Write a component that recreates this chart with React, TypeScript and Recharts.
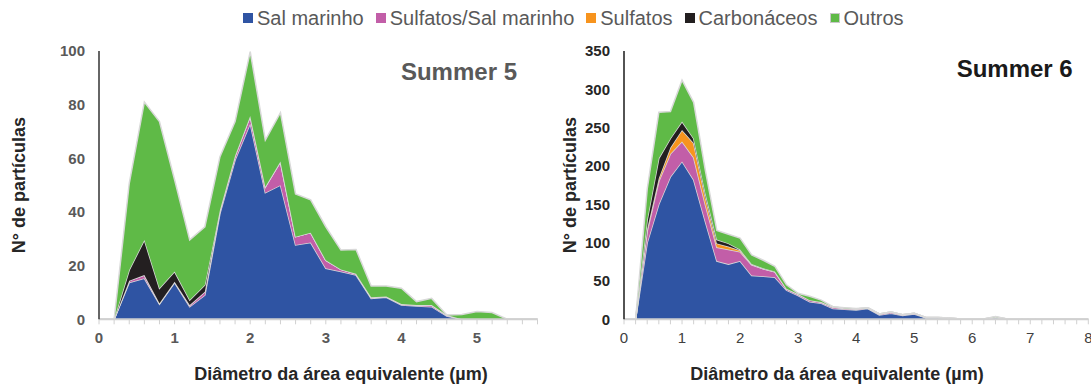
import { AreaChart, Area, XAxis, YAxis } from "recharts";

const FONT = '"Liberation Sans", Arial, sans-serif';

// Summer 5 – diameter classes (µm) and particle counts per class
const sizes5 = [
  0, 0.2, 0.4, 0.6, 0.8, 1, 1.2, 1.4, 1.6, 1.8, 2, 2.2, 2.4, 2.6, 2.8, 3, 3.2,
  3.4, 3.6, 3.8, 4, 4.2, 4.4, 4.6, 4.8, 5, 5.2, 5.4, 5.6, 5.8,
];
const salMarinho5 = [
  0, 0, 13.7, 15.3, 5.7, 13.7, 4.7, 9, 39.5, 59.4, 73, 47.2, 50, 27.7, 28.6, 19,
  17.8, 16.5, 7.8, 8.2, 5.3, 5, 4.7, 1.2, 0, 0, 0, 0, 0, 0,
];
const sulfSal5 = [
  0, 0, 0.7, 1.2, 0.3, 0.3, 0.6, 1.3, 1.2, 1.6, 2.8, 2.2, 8.8, 3.1, 3.7, 3, 0.8,
  0.5, 0.4, 0.3, 0.4, 0.3, 0.6, 0.4, 0, 0, 0, 0, 0, 0,
];
const sulfatos5 = [
  0, 0, 0, 0, 0, 0, 0, 0, 0, 0, 0, 0, 0, 0, 0, 0, 0, 0, 0, 0, 0, 0, 0, 0, 0, 0,
  0, 0, 0, 0,
];
const carbon5 = [
  0, 0, 4, 13.1, 5.6, 3.8, 1.9, 2.5, 0, 0, 0, 0, 0, 0, 0, 0, 0, 0, 0, 0, 0, 0, 0,
  0, 0, 0, 0, 0, 0, 0,
];
const outros5 = [
  0, 0, 32.3, 51.4, 62.1, 34.2, 22.4, 21.7, 19.9, 12.7, 24, 17.4, 18.2, 15.9,
  12.2, 12.5, 7.2, 9, 4.2, 3.9, 5.9, 1.3, 2.5, 0, 1.8, 2.9, 2.5, 0, 0, 0,
];

// Summer 6
const sizes6 = [
  0, 0.2, 0.4, 0.6, 0.8, 1, 1.2, 1.4, 1.6, 1.8, 2, 2.2, 2.4, 2.6, 2.8, 3, 3.2,
  3.4, 3.6, 3.8, 4, 4.2, 4.4, 4.6, 4.8, 5, 5.2, 5.4, 5.6, 5.8, 6, 6.2, 6.4, 6.6,
  6.8, 7, 7.2, 7.4, 7.6, 7.8, 8,
];
const salMarinho6 = [
  0, 0, 100, 150, 186, 206, 182, 128, 76, 72, 76, 57, 56, 55, 38, 31, 23, 21, 14,
  13, 12, 14, 5.5, 8, 5, 7, 2, 2, 1.5, 0.5, 0.3, 0.5, 2, 0.5, 0, 0.5, 0, 0, 0, 0,
  0,
];
const sulfSal6 = [
  0, 0, 15, 30, 30, 26, 29, 22, 18, 19, 12, 14, 10, 7, 2, 2, 2, 1.5, 2, 1.5, 1.5,
  1, 1.5, 1.5, 1, 1, 0.5, 0.5, 0.3, 0, 0, 0, 1, 0, 0, 0, 0, 0, 0, 0, 0,
];
const sulfatos6 = [
  0, 0, 3, 4, 8, 15, 19, 10, 5, 4, 2, 0.5, 0, 0, 0, 0, 0, 0, 0, 0, 0, 0, 0, 0, 0,
  0, 0, 0, 0, 0, 0, 0, 0, 0, 0, 0, 0, 0, 0, 0, 0,
];
const carbon6 = [
  0, 0, 12, 26, 12, 11, 6, 5, 5, 4, 1, 0.5, 0.5, 0.5, 0, 0, 0, 0, 0, 0, 0, 0, 0,
  0, 0, 0, 0, 0, 0, 0, 0, 0, 0, 0, 0, 0, 0, 0, 0, 0, 0,
];
const outros6 = [
  0, 0, 40, 60, 35, 54, 47, 30, 12, 12, 15, 12, 10.5, 6.5, 5, 1, 5, 2.5, 0.5,
  0.5, 0.5, 0, 0, 0, 0, 0, 0, 0, 0, 0, 0, 0, 0.5, 0, 0, 0, 0, 0, 0, 0, 0,
];

const yTicks5 = [0, 20, 40, 60, 80, 100];
const yTicks6 = [0, 50, 100, 150, 200, 250, 300, 350];

const SERIES = [
  { key: "sal", name: "Sal marinho", color: "#2f54a3" },
  { key: "sulfSal", name: "Sulfatos/Sal marinho", color: "#c25ea8" },
  { key: "sulf", name: "Sulfatos", color: "#f7941e" },
  { key: "carb", name: "Carbonáceos", color: "#231f20" },
  { key: "outros", name: "Outros", color: "#5fba47" },
];

function buildRows(
  cats: number[],
  sal: number[],
  sulfSal: number[],
  sulf: number[],
  carb: number[],
  outros: number[]
) {
  return cats.map((d, i) => ({
    d,
    sal: sal[i],
    sulfSal: sulfSal[i],
    sulf: sulf[i],
    carb: carb[i],
    outros: outros[i],
  }));
}

const rows5 = buildRows(sizes5, salMarinho5, sulfSal5, sulfatos5, carbon5, outros5);
const rows6 = buildRows(sizes6, salMarinho6, sulfSal6, sulfatos6, carbon6, outros6);

type ChartProps = {
  rows: ReturnType<typeof buildRows>;
  yMax: number;
  yTicks: number[];
  width: number;
  yAxisWidth: number;
  marginRight: number;
  frame: string;
  yTickColor: string;
  xTickColor: string;
  xTickWeight: number;
};

function SizeChart(p: ChartProps) {
  return (
    <AreaChart
      width={p.width}
      height={385}
      data={p.rows}
      margin={{ top: 51, right: p.marginRight, bottom: 35.7, left: 0 }}
    >
      <XAxis
        dataKey="d"
        type="category"
        interval={0}
        height={30}
        tickSize={5}
        tickMargin={8}
        tickLine={{ stroke: "#d0d0d0" }}
        axisLine={{ stroke: "#d0d0d0", strokeWidth: 2 }}
        tickFormatter={(v) => (Number.isInteger(v) ? String(v) : "")}
        tick={{
          fill: p.xTickColor,
          fontSize: 15,
          fontWeight: p.xTickWeight,
          fontFamily: FONT,
        }}
      />
      <XAxis
        xAxisId="top"
        dataKey="d"
        orientation="top"
        height={0}
        tick={false}
        tickLine={false}
        axisLine={{ stroke: p.frame, strokeWidth: 1.5 }}
      />
      <YAxis
        domain={[0, p.yMax]}
        ticks={p.yTicks}
        width={p.yAxisWidth}
        tickLine={false}
        tickSize={0}
        tickMargin={14}
        axisLine={{ stroke: p.frame, strokeWidth: 1.5 }}
        tick={{
          fill: p.yTickColor,
          fontSize: 15,
          fontWeight: 700,
          fontFamily: FONT,
        }}
      />
      <YAxis
        yAxisId="right"
        orientation="right"
        domain={[0, p.yMax]}
        width={0}
        tick={false}
        tickLine={false}
        axisLine={{ stroke: p.frame, strokeWidth: 1.5 }}
      />
      {SERIES.map((s) => (
        <Area
          key={s.key}
          type="linear"
          dataKey={s.key}
          name={s.name}
          stackId="a"
          fill={s.color}
          fillOpacity={1}
          stroke="#d9d9d9"
          strokeWidth={1.5}
          dot={false}
          activeDot={false}
          isAnimationActive={false}
        />
      ))}
    </AreaChart>
  );
}

const abs = (style: React.CSSProperties): React.CSSProperties => ({
  position: "absolute",
  whiteSpace: "nowrap",
  ...style,
});

function YTitle({ cx }: { cx: number }) {
  return (
    <div
      style={abs({
        left: cx,
        top: 185,
        transform: "translate(-50%, -50%) rotate(-90deg)",
        fontSize: 18,
        fontWeight: 700,
        lineHeight: "18px",
        color: "#262626",
      })}
    >
      N° de partículas
    </div>
  );
}

function XTitle({ cx }: { cx: number }) {
  return (
    <div
      style={abs({
        left: cx - 200,
        width: 400,
        top: 365,
        textAlign: "center",
        fontSize: 18,
        fontWeight: 700,
        lineHeight: "18px",
        color: "#262626",
      })}
    >
      Diâmetro da área equivalente (µm)
    </div>
  );
}

export default function App() {
  return (
    <div
      style={{
        position: "absolute",
        left: 0,
        top: 0,
        width: 1091,
        height: 385,
        background: "#fff",
        fontFamily: FONT,
        overflow: "hidden",
      }}
    >
      <div style={abs({ left: 0, top: 0 })}>
        <SizeChart
          rows={rows5}
          yMax={100}
          yTicks={yTicks5}
          width={560}
          yAxisWidth={99}
          marginRight={22.5}
          frame="#333333"
          yTickColor="#595959"
          xTickColor="#595959"
          xTickWeight={700}
        />
      </div>
      <div style={abs({ left: 560, top: 0 })}>
        <SizeChart
          rows={rows6}
          yMax={350}
          yTicks={yTicks6}
          width={531}
          yAxisWidth={64}
          marginRight={2.7}
          frame="#1a1a1a"
          yTickColor="#262626"
          xTickColor="#404040"
          xTickWeight={400}
        />
      </div>

      {/* legend */}
      <div
        style={abs({
          left: 243,
          top: 8,
          display: "flex",
          alignItems: "center",
          fontSize: 20,
          lineHeight: "20px",
          color: "#595959",
        })}
      >
        {SERIES.map((s, i) => (
          <div
            key={s.key}
            style={{
              display: "flex",
              alignItems: "center",
              marginRight: i < SERIES.length - 1 ? 12 : 0,
            }}
          >
            <span
              style={{
                width: 10,
                height: 10,
                background: s.color,
                marginRight: 4,
                boxSizing: "border-box",
                border: s.key === "outros" ? "1px solid #c8c8c8" : "none",
              }}
            />
            <span>{s.name}</span>
          </div>
        ))}
      </div>

      <div
        style={abs({
          right: 1091 - 517,
          top: 60.3,
          fontSize: 24,
          fontWeight: 700,
          lineHeight: "24px",
          color: "#595959",
        })}
      >
        Summer 5
      </div>
      <div
        style={abs({
          right: 1091 - 1072.7,
          top: 56.6,
          fontSize: 24,
          fontWeight: 700,
          lineHeight: "24px",
          color: "#1a1a1a",
        })}
      >
        Summer 6
      </div>

      <YTitle cx={19} />
      <YTitle cx={570} />
      <XTitle cx={341} />
      <XTitle cx={837} />
    </div>
  );
}
